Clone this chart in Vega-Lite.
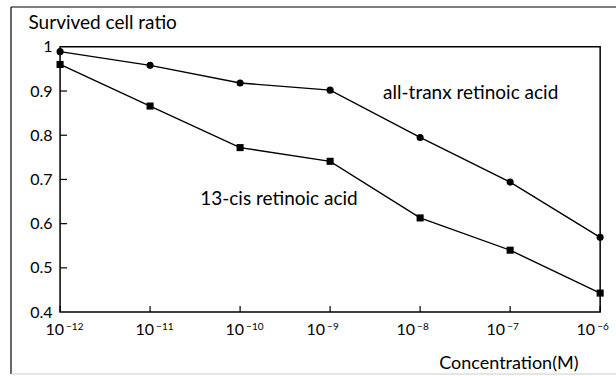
{
  "$schema": "https://vega.github.io/schema/vega-lite/v6.json",
  "width": 605,
  "height": 367,
  "autosize": {"type": "none"},
  "padding": {"left": 11, "top": 7, "right": 0, "bottom": 2},
  "background": "white",
  "config": {
    "view": {"stroke": null},
    "font": "Lato",
    "axis": {"grid": false, "labelColor": "black", "titleColor": "black", "tickColor": "black", "labelFont": "Lato", "titleFont": "Lato"}
  },
  "datasets": {
    "curves": [
      {"compound": "all-trans", "concentration": 1e-12, "ratio": 0.989},
      {"compound": "all-trans", "concentration": 1e-11, "ratio": 0.958},
      {"compound": "all-trans", "concentration": 1e-10, "ratio": 0.918},
      {"compound": "all-trans", "concentration": 1e-9, "ratio": 0.902},
      {"compound": "all-trans", "concentration": 1e-8, "ratio": 0.795},
      {"compound": "all-trans", "concentration": 1e-7, "ratio": 0.694},
      {"compound": "all-trans", "concentration": 1e-6, "ratio": 0.569},
      {"compound": "13-cis", "concentration": 1e-12, "ratio": 0.96},
      {"compound": "13-cis", "concentration": 1e-11, "ratio": 0.866},
      {"compound": "13-cis", "concentration": 1e-10, "ratio": 0.772},
      {"compound": "13-cis", "concentration": 1e-9, "ratio": 0.741},
      {"compound": "13-cis", "concentration": 1e-8, "ratio": 0.613},
      {"compound": "13-cis", "concentration": 1e-7, "ratio": 0.54},
      {"compound": "13-cis", "concentration": 1e-6, "ratio": 0.443}
    ],
    "labels": [
      {"label": "all-tranx retinoic acid", "concentration": 3.88e-9, "ratio": 0.881},
      {"label": "13-cis retinoic acid", "concentration": 3.6e-11, "ratio": 0.642}
    ],
    "xticks": [
      {"concentration": 1e-12, "exponent": "−12"},
      {"concentration": 1e-11, "exponent": "−11"},
      {"concentration": 1e-10, "exponent": "−10"},
      {"concentration": 1e-9, "exponent": "−9"},
      {"concentration": 1e-8, "exponent": "−8"},
      {"concentration": 1e-7, "exponent": "−7"},
      {"concentration": 1e-6, "exponent": "−6"}
    ],
    "yticks": [
      {"ratio": 0.5}, {"ratio": 0.6}, {"ratio": 0.7}, {"ratio": 0.8}, {"ratio": 0.9}
    ]
  },
  "layer": [
    {
      "data": {"name": "curves"},
      "mark": {"type": "line", "color": "black", "strokeWidth": 1.4},
      "encoding": {
        "x": {
          "field": "concentration", "type": "quantitative",
          "scale": {"type": "log", "domain": [2.85e-13, 1.5e-6], "nice": false},
          "axis": {
            "orient": "bottom", "offset": -62, "domain": false, "ticks": false, "labels": false,
            "title": "Concentration(M)", "titleX": 567, "titleY": 56, "titleAlign": "right",
            "titleBaseline": "alphabetic", "titleFontSize": 18, "titleFontWeight": "normal"
          }
        },
        "y": {
          "field": "ratio", "type": "quantitative",
          "scale": {"domain": [0.26, 1.09], "nice": false, "zero": false},
          "axis": {
            "orient": "left", "offset": -49, "domain": false, "ticks": false,
            "values": [0.4, 0.5, 0.6, 0.7, 0.8, 0.9, 1],
            "format": ".1~f",
            "labelPadding": 8, "labelFontSize": 16, "labelFlush": false,
            "title": "Survived cell ratio", "titleAngle": 0, "titleX": -32, "titleY": 21,
            "titleAlign": "left", "titleBaseline": "alphabetic", "titleFontSize": 19, "titleFontWeight": "normal"
          }
        },
        "detail": {"field": "compound"}
      }
    },
    {
      "data": {"name": "curves"},
      "mark": {"type": "point", "filled": true, "opacity": 1, "color": "black", "size": 50},
      "encoding": {
        "x": {"field": "concentration", "type": "quantitative"},
        "y": {"field": "ratio", "type": "quantitative"},
        "shape": {"field": "compound", "type": "nominal", "scale": {"domain": ["all-trans", "13-cis"], "range": ["circle", "square"]}, "legend": null}
      }
    },
    {
      "data": {"values": [{}]},
      "mark": {"type": "rect", "fill": null, "fillOpacity": 0, "stroke": "black", "strokeWidth": 1.5},
      "encoding": {
        "x": {"datum": 1e-12, "type": "quantitative"},
        "x2": {"datum": 1e-6},
        "y": {"datum": 0.4, "type": "quantitative"},
        "y2": {"datum": 1}
      }
    },
    {
      "data": {"name": "yticks"},
      "mark": {"type": "rule", "color": "black", "strokeWidth": 1.2},
      "encoding": {
        "x": {"datum": 1e-12, "type": "quantitative"},
        "x2": {"datum": 1.196e-12},
        "y": {"field": "ratio", "type": "quantitative"}
      }
    },
    {
      "data": {"name": "xticks"},
      "mark": {"type": "rule", "color": "black", "strokeWidth": 1.2},
      "encoding": {
        "x": {"field": "concentration", "type": "quantitative"},
        "y": {"datum": 0.4, "type": "quantitative"},
        "y2": {"datum": 0.4136}
      }
    },
    {
      "data": {"name": "xticks"},
      "transform": [{"filter": "length(datum.exponent) == 3"}],
      "mark": {"type": "text", "align": "right", "baseline": "alphabetic", "fontSize": 16, "dx": 4, "dy": 23, "color": "black", "font": "Lato"},
      "encoding": {
        "x": {"field": "concentration", "type": "quantitative"},
        "y": {"datum": 0.4, "type": "quantitative"},
        "text": {"value": "10"}
      }
    },
    {
      "data": {"name": "xticks"},
      "transform": [{"filter": "length(datum.exponent) == 3"}],
      "mark": {"type": "text", "align": "left", "baseline": "alphabetic", "fontSize": 10, "dx": 6, "dy": 18, "color": "black", "font": "Lato"},
      "encoding": {
        "x": {"field": "concentration", "type": "quantitative"},
        "y": {"datum": 0.4, "type": "quantitative"},
        "text": {"field": "exponent"}
      }
    },
    {
      "data": {"name": "xticks"},
      "transform": [{"filter": "length(datum.exponent) == 2"}],
      "mark": {"type": "text", "align": "right", "baseline": "alphabetic", "fontSize": 16, "dx": -5, "dy": 23, "color": "black", "font": "Lato"},
      "encoding": {
        "x": {"field": "concentration", "type": "quantitative"},
        "y": {"datum": 0.4, "type": "quantitative"},
        "text": {"value": "10"}
      }
    },
    {
      "data": {"name": "xticks"},
      "transform": [{"filter": "length(datum.exponent) == 2"}],
      "mark": {"type": "text", "align": "left", "baseline": "alphabetic", "fontSize": 10, "dx": -3, "dy": 18, "color": "black", "font": "Lato"},
      "encoding": {
        "x": {"field": "concentration", "type": "quantitative"},
        "y": {"datum": 0.4, "type": "quantitative"},
        "text": {"field": "exponent"}
      }
    },
    {
      "data": {"values": [{}]},
      "mark": {"type": "rule", "color": "black", "strokeWidth": 1.2},
      "encoding": {"x": {"datum": 2.85e-13, "type": "quantitative"}}
    },
    {
      "data": {"values": [{}]},
      "mark": {"type": "rule", "color": "black", "strokeWidth": 1.2},
      "encoding": {"y": {"datum": 1.09, "type": "quantitative"}}
    },
    {
      "data": {"values": [{}]},
      "mark": {"type": "rule", "color": "#cccccc", "strokeWidth": 1},
      "encoding": {"y": {"datum": 0.26, "type": "quantitative"}}
    },
    {
      "data": {"name": "labels"},
      "mark": {"type": "text", "align": "left", "baseline": "alphabetic", "fontSize": 19, "font": "Lato", "color": "black"},
      "encoding": {
        "x": {"field": "concentration", "type": "quantitative"},
        "y": {"field": "ratio", "type": "quantitative"},
        "text": {"field": "label"}
      }
    }
  ]
}
